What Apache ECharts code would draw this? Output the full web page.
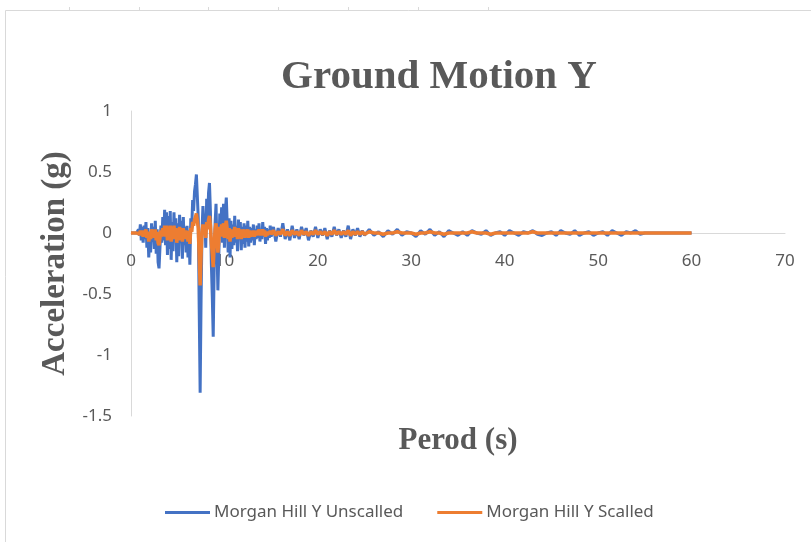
<!DOCTYPE html>
<html>
<head>
<meta charset="utf-8">
<script src="https://cdn.jsdelivr.net/npm/echarts@6/dist/echarts.min.js"></script>
<style>
  html, body { margin: 0; padding: 0; background: #fff; }
  #chart { width: 811px; height: 542px; }
</style>
</head>
<body>
<div id="chart"></div>
<script>
// sampling grid of the record: [start time, step] per segment
const seg1Time = [0, 0.1];    // 0 - 15 s
const seg2Time = [15.25, 0.25]; // 15.25 - 25 s
const seg3Time = [25.5, 0.5];  // 25.5 - 60 s

// Morgan Hill Y Unscalled (g)
const unscaled1 = [
  0, 0, 0, 0, 0, 0, 0, 0.01, 0.03, -0.02,
  0.07, -0.06, 0.05, -0.08, 0.06, -0.05, 0.09, -0.12, 0.04, -0.2,
  -0.05, -0.16, 0.08, -0.07, 0.05, -0.13, 0.1, -0.17, 0.03, -0.24,
  -0.29, -0.12, 0.06, -0.08, 0.13, -0.06, 0.19, -0.1, 0.17, -0.18,
  0.14, -0.13, 0.18, -0.22, 0.09, -0.15, 0.17, -0.07, 0.12, -0.24,
  0.08, -0.19, 0.15, -0.06, 0.1, -0.21, 0.13, -0.1, 0.05, -0.16,
  0.06, -0.2, 0.02, -0.26, 0.12, 0.04, 0.27, 0.18, 0.34, 0.4,
  0.48, 0.49, 0.12, -0.62, -1.31, -0.55, 0.02, 0.22, 0.08, 0.15,
  -0.12, 0.28, 0.1, 0.33, 0.41, 0.18, -0.25, -0.52, -0.85, -0.3,
  0.08, 0.24, -0.12, -0.47, -0.18, 0.16, 0.02, 0.21, -0.08, 0.24,
  -0.12, 0.18, 0.29, 0.08, -0.16, 0.12, -0.2, 0.1, -0.13, 0.07,
  -0.1, 0.14, -0.08, 0.06, -0.15, 0.11, -0.05, 0.09, -0.14, 0.05,
  -0.09, 0.08, -0.12, 0.06, -0.07, 0.1, -0.11, 0.05, -0.08, 0.04,
  -0.06, 0.07, -0.1, 0.03, -0.05, 0.06, -0.04, 0.08, -0.07, 0.02,
  -0.05, 0.09, -0.03, 0.05, -0.09, 0.04, -0.06, 0.03, -0.04, 0.06, -0.03
];
const unscaled2 = [
  0.05, -0.07, 0.04, -0.03, 0.08, -0.05, 0.03, -0.06, 0.06, -0.04,
  0.03, -0.05, 0.05, -0.02, 0.04, -0.06, 0.02, -0.03, 0.05, -0.04,
  0.03, -0.02, 0.04, -0.05, 0.02, -0.03, 0.05, -0.02, 0.03, -0.04,
  0.02, -0.03, 0.06, -0.05, 0.03, -0.02, 0.04, -0.03, 0.02, -0.02
];
const unscaled3 = [
  0.03, -0.02, 0.01, -0.03, 0.02, -0.01, 0.03, -0.02, 0.01, 0,
  -0.03, 0.02, -0.01, 0.03, -0.02, 0.01, -0.03, 0.02, 0, -0.02,
  0.01, -0.02, 0.02, 0, -0.01, 0.02, -0.02, 0, 0.01, -0.02,
  0.02, 0, -0.02, 0.01, 0, 0.02, -0.01, -0.02, 0, 0.01,
  -0.02, 0.02, 0, -0.01, 0.02, -0.02, 0, 0.01, -0.02, 0,
  0.01, -0.02, 0.02, 0, -0.02, 0.01, 0, 0.02, -0.01, 0,
  0, 0, 0, 0, 0, 0, 0, 0, 0, 0
];

// Morgan Hill Y Scalled (g)
const scaled1 = [
  0, 0, 0, 0, 0, 0, 0, 0, 0.01, -0.01,
  0.02, -0.02, 0.02, -0.03, 0.02, -0.02, 0.03, -0.04, 0.01, -0.07,
  -0.02, -0.05, 0.03, -0.02, 0.02, -0.04, 0.03, -0.06, 0.01, -0.08,
  -0.1, -0.04, 0.02, -0.03, 0.04, -0.02, 0.06, -0.03, 0.06, -0.06,
  0.05, -0.04, 0.06, -0.07, 0.03, -0.05, 0.06, -0.02, 0.04, -0.08,
  0.03, -0.06, 0.05, -0.02, 0.03, -0.07, 0.04, -0.03, 0.02, -0.05,
  0.02, -0.07, 0.01, -0.09, 0.04, 0.01, 0.09, 0.06, 0.11, 0.13,
  0.16, 0.16, 0.04, -0.2, -0.43, -0.18, 0.01, 0.07, 0.03, 0.05,
  -0.04, 0.09, 0.03, 0.11, 0.14, 0.06, -0.08, -0.17, -0.28, -0.1,
  0.03, 0.08, -0.04, -0.16, -0.06, 0.05, 0.01, 0.07, -0.03, 0.08,
  -0.04, 0.06, 0.1, 0.03, -0.05, 0.04, -0.07, 0.03, -0.04, 0.02,
  -0.03, 0.05, -0.03, 0.02, -0.05, 0.04, -0.02, 0.03, -0.05, 0.02,
  -0.03, 0.03, -0.04, 0.02, -0.02, 0.03, -0.04, 0.02, -0.03, 0.01,
  -0.02, 0.02, -0.03, 0.01, -0.02, 0.02, -0.01, 0.03, -0.02, 0.01,
  -0.02, 0.03, -0.01, 0.02, -0.03, 0.01, -0.02, 0.01, -0.01, 0.02, -0.01
];
const scaled2 = [
  0.02, -0.02, 0.01, -0.01, 0.03, -0.02, 0.01, -0.02, 0.02, -0.01,
  0.01, -0.02, 0.02, -0.01, 0.01, -0.02, 0.01, -0.01, 0.02, -0.01,
  0.01, -0.01, 0.01, -0.02, 0.01, -0.01, 0.02, -0.01, 0.01, -0.01,
  0.01, -0.01, 0.02, -0.02, 0.01, -0.01, 0.01, -0.01, 0.01, -0.01
];
const scaled3 = [
  0.01, 0, 0, -0.01, 0, 0, 0.01, 0, 0, 0,
  -0.01, 0, 0, 0.01, 0, 0, -0.01, 0, 0, 0,
  0, 0, 0.01, 0, 0, 0, -0.01, 0, 0, 0,
  0, 0, 0, 0, 0, 0.01, 0, 0, 0, 0,
  0, 0, 0, 0, 0, 0, 0, 0, 0, 0,
  0, 0, 0, 0, 0, 0, 0, 0, 0, 0,
  0, 0, 0, 0, 0, 0, 0, 0, 0, 0
];

const seriesNames = ['Morgan Hill Y Unscalled', 'Morgan Hill Y Scalled'];
const xTicks = [0, 70, 10];
const yTicks = [-1.5, 1, 0.5];

function toPairs(grid, vals) {
  return vals.map((v, i) => [+(grid[0] + i * grid[1]).toFixed(2), v]);
}
const unscaledData = [].concat(
  toPairs(seg1Time, unscaled1), toPairs(seg2Time, unscaled2), toPairs(seg3Time, unscaled3));
const scaledData = [].concat(
  toPairs(seg1Time, scaled1), toPairs(seg2Time, scaled2), toPairs(seg3Time, scaled3));

const grey = '#595959';
const serif = '"Liberation Serif", "DejaVu Serif", serif';
const sans = '"Noto Sans", "Open Sans", sans-serif';

let myChart = echarts.init(document.getElementById('chart'));
let option = {
  animation: false,
  backgroundColor: '#fff',
  title: {
    text: 'Ground Motion Y',
    left: 434,
    top: 52,
    textAlign: 'center',
    textStyle: { fontFamily: serif, fontWeight: 'bold', fontSize: 41, color: grey }
  },
  graphic: [
    { type: 'rect', shape: { x: 5.5, y: 10.5, width: 900, height: 600 },
      style: { fill: 'none', stroke: '#d9d9d9', lineWidth: 1 }, silent: true },
    { type: 'line', shape: { x1: 69.5, y1: 7, x2: 69.5, y2: 10 }, style: { stroke: '#d9d9d9' } },
    { type: 'line', shape: { x1: 139.5, y1: 7, x2: 139.5, y2: 10 }, style: { stroke: '#d9d9d9' } },
    { type: 'line', shape: { x1: 208.5, y1: 7, x2: 208.5, y2: 10 }, style: { stroke: '#d9d9d9' } },
    { type: 'line', shape: { x1: 278.5, y1: 7, x2: 278.5, y2: 10 }, style: { stroke: '#d9d9d9' } },
    { type: 'line', shape: { x1: 348.5, y1: 7, x2: 348.5, y2: 10 }, style: { stroke: '#d9d9d9' } },
    { type: 'line', shape: { x1: 418.5, y1: 7, x2: 418.5, y2: 10 }, style: { stroke: '#d9d9d9' } },
    { type: 'line', shape: { x1: 488.5, y1: 7, x2: 488.5, y2: 10 }, style: { stroke: '#d9d9d9' } }
  ],
  legend: {
    data: seriesNames,
    left: 160,
    top: 499,
    icon: 'rect',
    itemWidth: 45,
    itemHeight: 3,
    itemGap: 34,
    textStyle: { fontFamily: sans, fontSize: 17, color: grey, padding: [0, 0, 0, -1] }
  },
  grid: { left: 131, right: 26, top: 111, bottom: 126, containLabel: false, outerBoundsMode: 'none' },
  xAxis: {
    type: 'value',
    min: xTicks[0], max: xTicks[1], interval: xTicks[2],
    name: 'Perod (s)',
    nameLocation: 'middle',
    nameGap: 192,
    nameTextStyle: { fontFamily: serif, fontWeight: 'bold', fontSize: 31, color: grey },
    // axis sits on the zero line of the y axis (grid bottom is at -1.5)
    offset: -183,
    axisLine: { onZero: false, lineStyle: { color: '#d9d9d9', width: 1 } },
    axisTick: { show: false },
    splitLine: { show: false },
    axisLabel: { margin: 20, fontFamily: sans, fontSize: 17, color: grey }
  },
  yAxis: {
    type: 'value',
    min: yTicks[0], max: yTicks[1], interval: yTicks[2],
    name: 'Acceleration (g)',
    nameLocation: 'middle',
    nameGap: 56,
    nameTextStyle: { fontFamily: serif, fontWeight: 'bold', fontSize: 33, color: grey },
    axisLine: { show: true, lineStyle: { color: '#d9d9d9', width: 1 } },
    axisTick: { show: false },
    splitLine: { show: false },
    axisLabel: { margin: 19, fontFamily: sans, fontSize: 17, color: grey }
  },
  series: [
    {
      name: seriesNames[0],
      type: 'line',
      data: unscaledData,
      showSymbol: false,
      symbol: 'none',
      lineStyle: { color: '#4472C4', width: 3 },
      itemStyle: { color: '#4472C4' }
    },
    {
      name: seriesNames[1],
      type: 'line',
      data: scaledData,
      showSymbol: false,
      symbol: 'none',
      lineStyle: { color: '#ED7D31', width: 3.5 },
      itemStyle: { color: '#ED7D31' }
    }
  ]
};
myChart.setOption(option);
</script>
</body>
</html>
